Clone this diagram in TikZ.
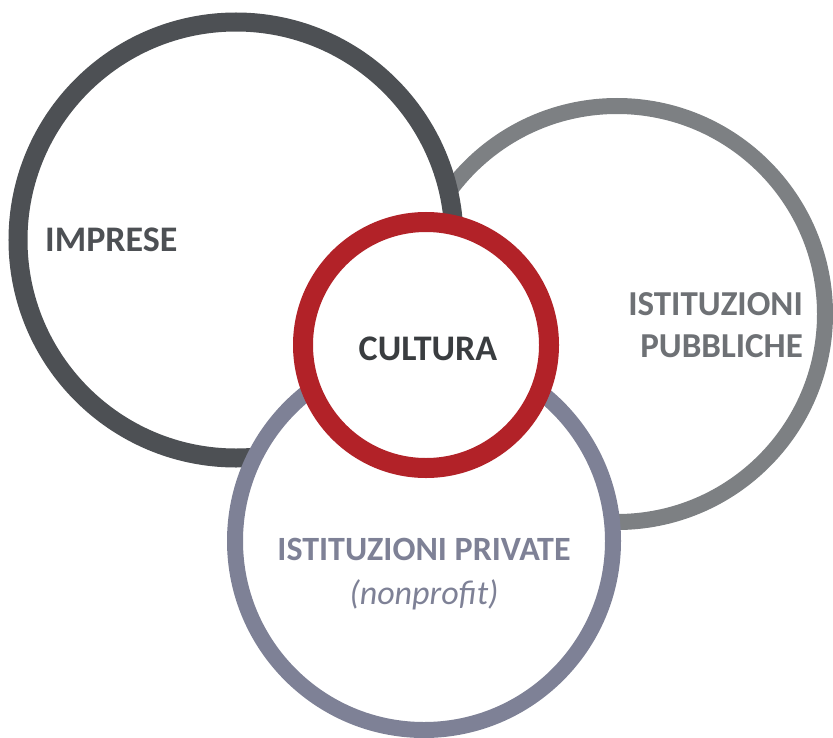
\documentclass[tikz,border=0pt]{standalone}
\usepackage{fontspec}
\setmainfont{Carlito}

\definecolor{scuro}{HTML}{4D5054}
\definecolor{grigio}{HTML}{7D8083}
\definecolor{lavanda}{HTML}{7E8196}
\definecolor{rosso}{HTML}{B22228}
\definecolor{testoscuro}{HTML}{3A3D40}
\definecolor{testogrigio}{HTML}{6E7175}

\begin{document}
\begin{tikzpicture}[x=1bp, y=-1bp,
    anello/.style={circle, draw, fill=white, inner sep=0pt, outer sep=0pt},
    etichetta/.style={inner sep=0pt, font=\fontsize{36bp}{42bp}\selectfont\bfseries}
  ]
        \useasboundingbox (0,0) rectangle (833,738);

        % Centri dei cerchi
        \coordinate (cPub) at (617,314);
        \coordinate (cImp) at (236,240);
        \coordinate (cPri) at (424,541);
        \coordinate (cCul) at (426,345);

        % --- Cerchi (dal fondo verso l'alto) ---
        \node[anello, draw=grigio,  line width=16bp, minimum size=416bp] (pubbliche) at (cPub) {};
        \node[anello, draw=scuro,   line width=19bp, minimum size=436bp] (imprese)   at (cImp) {};
        \node[anello, draw=lavanda, line width=16bp, minimum size=378bp] (private)   at (cPri) {};
        \node[anello, draw=rosso,   line width=20bp, minimum size=246bp] (cultura)   at (cCul) {};

        % --- Etichette ---
        \node[etichetta, text=scuro, anchor=west] (tImp) at (45,240) {IMPRESE};
        \node[etichetta, text=testoscuro] (tCul) at (428,349) {CULTURA};
        \node[etichetta, text=testogrigio, anchor=east, align=right,
              font=\fontsize{35bp}{42bp}\selectfont\bfseries] (tPub) at (803,325) {ISTITUZIONI\\PUBBLICHE};
        \node[etichetta, text=lavanda, anchor=north, align=center,
              font=\fontsize{34bp}{44bp}\selectfont\bfseries] (tPri) at (424,538)
              {ISTITUZIONI PRIVATE\\{\mdseries\itshape (nonprofit)}};

\end{tikzpicture}
\end{document}
